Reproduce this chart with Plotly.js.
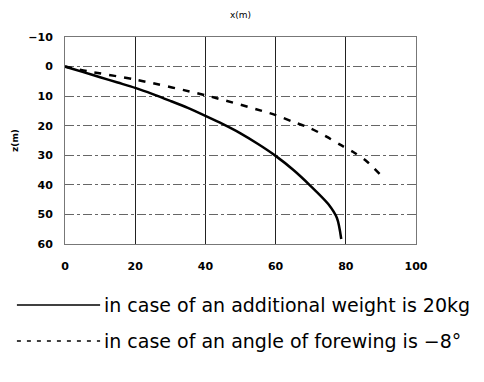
<!DOCTYPE html>
<html>
<head>
<meta charset="utf-8">
<script src="https://cdn.plot.ly/plotly-3.0.1.min.js"></script>
<style>html,body{margin:0;padding:0;background:#fff;}#chart{width:484px;height:382px;}</style>
</head>
<body>
<div id="chart"></div>
<script>
// Series 1: additional weight 20kg (solid)
const weightX = [0, 5, 10, 15, 20, 25, 30, 35, 40, 45, 50, 55, 60, 65, 70, 75, 77.5, 78.7];
const weightZ = [0, 1.8, 3.6, 5.4, 7.2, 9.3, 11.6, 14.0, 16.7, 19.5, 22.6, 26.2, 30.2, 34.9, 40.4, 46.5, 51.3, 58.3];
// Series 2: forewing angle -8° (dashed)
const angleX = [0, 6.6, 20, 40, 60, 65, 70, 74.5, 78.5, 82, 86, 91.2];
const angleZ = [0, 1.6, 4.4, 9.7, 16.4, 18.7, 20.9, 23.7, 26.5, 28.8, 32.1, 38.3];
const seriesNames = ["in case of an additional weight is 20kg", "in case of an angle of forewing is \u22128\u00b0"];
const xTicks = [0, 20, 40, 60, 80, 100];
const zTicks = [-10, 0, 10, 20, 30, 40, 50, 60];

const tickFont = {family: "DejaVu Sans, Liberation Sans, sans-serif", size: 11, color: "#000", weight: "bold"};

const traces = [
  {x: weightX, y: weightZ, mode: "lines", name: seriesNames[0], line: {color: "#000", width: 2.5, shape: "spline", smoothing: 0.8}, showlegend: false},
  {x: angleX, y: angleZ, mode: "lines", name: seriesNames[1], line: {color: "#000", width: 2.5, dash: "7px,8px", shape: "spline", smoothing: 0.8}, showlegend: false}
];

const legendFont = {family: "DejaVu Sans, Liberation Sans, sans-serif", size: 19, color: "#000"};
const layout = {
  width: 484, height: 382,
  margin: {l: 65, r: 68, t: 37, b: 138},
  paper_bgcolor: "#fff", plot_bgcolor: "#fff",
  showlegend: false,
  title: {text: "x(m)", font: {family: "DejaVu Sans, Liberation Sans, sans-serif", size: 9, color: "#000"}, x: 0.5, xref: "paper", y: 0.96, yref: "container", xanchor: "center", yanchor: "middle"},
  xaxis: {
    range: [0, 100], tickvals: xTicks, ticktext: xTicks.map(String),
    showgrid: true, gridcolor: "#222", gridwidth: 1,
    zeroline: false, showline: true, mirror: true, linecolor: "#777", linewidth: 1,
    ticks: "", tickfont: tickFont, ticklabelstandoff: 12
  },
  yaxis: {
    range: [60, -10], tickvals: zTicks, ticktext: zTicks.map(v => v < 0 ? "\u2212" + Math.abs(v) : String(v)),
    showgrid: true, gridcolor: "#666", gridwidth: 1, griddash: "dashdot",
    zeroline: false, showline: true, mirror: true, linecolor: "#777", linewidth: 1,
    ticks: "", tickfont: tickFont, ticklabelstandoff: 9,
    title: {text: "z(m)", font: {family: "DejaVu Sans, Liberation Sans, sans-serif", size: 9, color: "#000", weight: "bold"}, standoff: 8}
  },
  shapes: [
    {type: "line", xref: "paper", yref: "paper", x0: -0.137, x1: 0.10, y0: -0.295, y1: -0.295, line: {color: "#000", width: 1.5}},
    {type: "line", xref: "paper", yref: "paper", x0: -0.137, x1: 0.10, y0: -0.469, y1: -0.469, line: {color: "#000", width: 1.5, dash: "4px,6px"}}
  ],
  annotations: [
    {text: seriesNames[0], xref: "paper", yref: "paper", x: 0.105, y: -0.295, xanchor: "left", yanchor: "middle", showarrow: false, font: legendFont},
    {text: seriesNames[1], xref: "paper", yref: "paper", x: 0.105, y: -0.469, xanchor: "left", yanchor: "middle", showarrow: false, font: legendFont}
  ]
};

Plotly.newPlot("chart", traces, layout, {displayModeBar: false, staticPlot: true});
</script>
</body>
</html>
